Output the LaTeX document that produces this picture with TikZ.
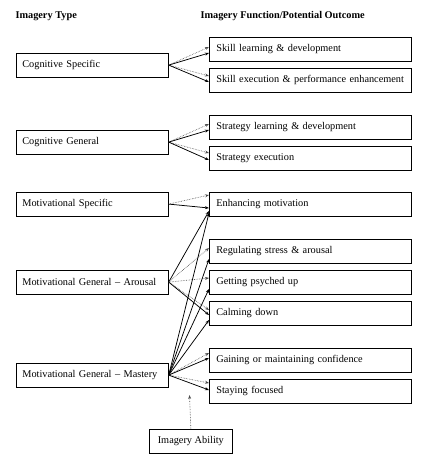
\documentclass[tikz,border=0pt]{standalone}
\usepackage{fontspec}
\setmainfont{Liberation Serif}
\usetikzlibrary{arrows.meta}
\tikzset{
  every picture/.style={font=\fontsize{10.3}{12}\selectfont},
  typebox/.style={draw,line width=0.7pt,anchor=north west,minimum height=23.5pt,inner xsep=6pt,text width=140pt,align=left},
  outbox/.style={draw,line width=0.7pt,anchor=north west,minimum height=23.5pt,inner xsep=7pt,text width=188pt,align=left},
  head/.style={anchor=west,font=\fontsize{10.3}{12}\selectfont\bfseries},
  weak/.style={black!70,densely dotted,line width=0.6pt,-{Stealth[length=4pt,width=3pt]}},
  strong/.style={black,line width=0.75pt,-{Stealth[length=4pt,width=3pt]}},
}
\begin{document}
\begin{tikzpicture}[x=1pt,y=-1pt]
  \useasboundingbox (0,0) rectangle (433,464);
  % column heads
  \node[head] (typehead) at (12,16) {Imagery Type};
  \node[head] (funchead) at (197,16) {Imagery Function/Potential Outcome};
  % imagery types
  \node[typebox] (cs) at (16,53) {Cognitive Specific};
  \node[typebox] (cg) at (16,130) {Cognitive General};
  \node[typebox] (ms) at (16,192) {Motivational Specific};
  \node[typebox] (mga) at (16,270) {Motivational General -- Arousal};
  \node[typebox] (mgm) at (16,363) {Motivational General -- Mastery};
  % outcomes
  \node[outbox] (sl) at (209,37) {Skill learning \& development};
  \node[outbox] (se) at (209,68) {Skill execution \& performance enhancement};
  \node[outbox] (stl) at (209,115) {Strategy learning \& development};
  \node[outbox] (ste) at (209,146) {Strategy execution};
  \node[outbox] (em) at (209,192) {Enhancing motivation};
  \node[outbox] (rs) at (209,239) {Regulating stress \& arousal};
  \node[outbox] (gp) at (209,270) {Getting psyched up};
  \node[outbox] (cd) at (209,301) {Calming down};
  \node[outbox] (gc) at (209,348) {Gaining or maintaining confidence};
  \node[outbox] (sf) at (209,379) {Staying focused};
  % ability
  \node[draw,line width=0.7pt,anchor=north west,minimum width=83pt,minimum height=24pt] (ia) at (149,429) {Imagery Ability};
  \coordinate (abil) at (189.5,395);
  % links
  \foreach \src/\dst/\off in {cs/sl/10,cs/se/8,cg/stl/9,cg/ste/7,ms/em/3,mga/rs/9,mga/gp/8,mga/cd/9,mgm/gc/5,mgm/sf/4}
    \draw[weak] (\src.east) -- ([yshift=-\off pt]\dst.north west);
  \foreach \src/\dst/\off in {cs/sl/16,cs/se/14,cg/stl/15,cg/ste/14,ms/em/16,mga/em/19,mga/cd/14,mgm/em/21,mgm/rs/20,mgm/gp/19,mgm/cd/19,mgm/gc/10,mgm/sf/11}
    \draw[strong] (\src.east) -- ([yshift=-\off pt]\dst.north west);
  \draw[weak] (ia.north) -- (abil);
\end{tikzpicture}
\end{document}
